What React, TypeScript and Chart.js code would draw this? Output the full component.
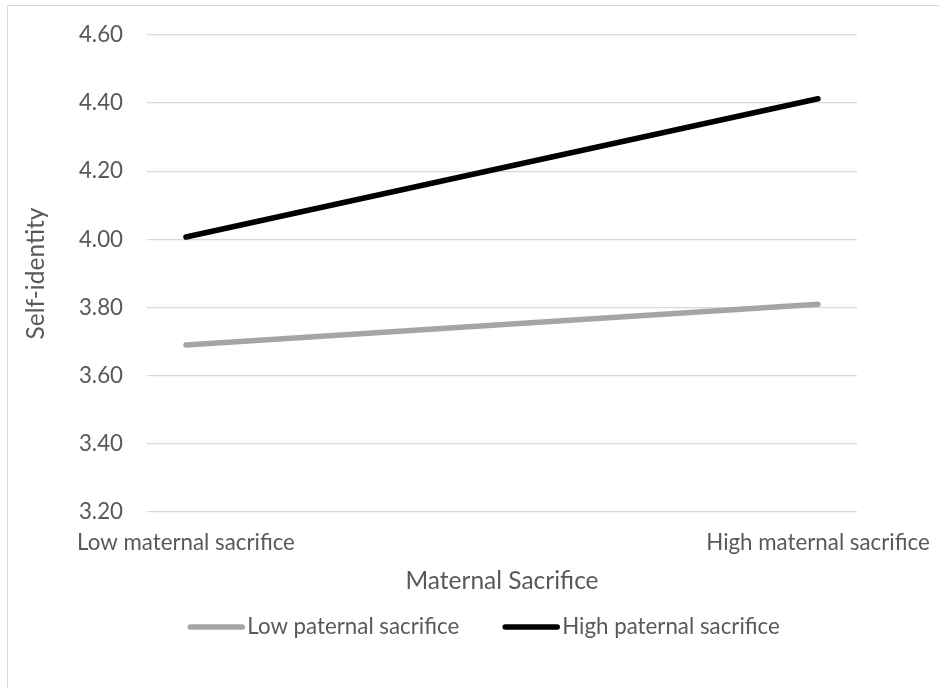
import React, { useEffect, useRef } from "react";
import { Chart, registerables } from "chart.js";

Chart.register(...registerables);

const categories = ["Low maternal sacrifice", "High maternal sacrifice"];
const seriesNames = ["Low paternal sacrifice", "High paternal sacrifice"];
const lowPaternal = [3.69, 3.81];
const highPaternal = [4.007, 4.413];
const yTickValues = [3.2, 3.4, 3.6, 3.8, 4.0, 4.2, 4.4, 4.6];
const xTitle = "Maternal Sacrifice";
const yTitle = "Self-identity";

const TEXT = "#595959";
const GRID = "#d9d9d9";
const FONT = "Lato";

export default function App() {
  const ref = useRef<HTMLCanvasElement | null>(null);

  useEffect(() => {
    const canvas = ref.current;
    if (!canvas) return;
    // size the font so the category label width matches the reference (~218px)
    const mctx = document.createElement("canvas").getContext("2d")!;
    mctx.font = `100px ${FONT}`;
    const w = mctx.measureText(categories[0]).width;
    const fs = Math.round(((100 * 218) / w) * 10) / 10;
    const tfs = Math.round(fs * 1.1 * 10) / 10;

    const legendPlugin = {
      id: "customLegend",
      afterDraw(chart: any) {
        const ctx = chart.ctx;
        const ds = chart.data.datasets;
        ctx.save();
        ctx.font = `${fs}px ${FONT}`;
        const lineLen = 56;
        const gap = 3;
        const itemGap = 44;
        const widths = ds.map((d: any) => lineLen + gap + ctx.measureText(d.label).width);
        const total = widths.reduce((a: number, b: number) => a + b, 0) + itemGap * (ds.length - 1);
        let x = 484 - total / 2;
        const y = 627;
        ds.forEach((d: any, i: number) => {
          ctx.strokeStyle = d.borderColor;
          ctx.lineWidth = d.borderWidth;
          ctx.lineCap = "round";
          ctx.beginPath();
          ctx.moveTo(x + 2, y);
          ctx.lineTo(x + lineLen - 2, y);
          ctx.stroke();
          ctx.fillStyle = TEXT;
          ctx.textBaseline = "middle";
          ctx.textAlign = "left";
          ctx.fillText(d.label, x + lineLen + gap, y);
          x += widths[i] + itemGap;
        });
        ctx.restore();
      },
    };

    const chart = new Chart(canvas, {
      type: "line",
      data: {
        datasets: [
          {
            label: seriesNames[0],
            data: lowPaternal.map((v, i) => ({ x: i, y: v })),
            borderColor: "#a5a5a5",
            backgroundColor: "#a5a5a5",
            borderWidth: 5.5,
            borderCapStyle: "round",
            pointRadius: 0,
            fill: false,
          },
          {
            label: seriesNames[1],
            data: highPaternal.map((v, i) => ({ x: i, y: v })),
            borderColor: "#000000",
            backgroundColor: "#000000",
            borderWidth: 5.5,
            borderCapStyle: "round",
            pointRadius: 0,
            fill: false,
          },
        ],
      },
      options: {
        animation: false,
        responsive: false,
        maintainAspectRatio: false,
        layout: { padding: { left: 7, right: 82, top: 35, bottom: 88 } },
        plugins: {
          legend: { display: false },
          tooltip: { enabled: false },
        },
        scales: {
          x: {
            type: "linear",
            min: -0.0617,
            max: 1.0617,
            afterBuildTicks: (s: any) => {
              s.ticks = categories.map((_, i) => ({ value: i }));
            },
            afterFit: (s: any) => {
              s.height = 88;
              s.paddingLeft = 0;
              s.paddingRight = 0;
            },
            grid: { display: false, drawTicks: false },
            border: { display: false },
            ticks: {
              autoSkip: false,
              maxRotation: 0,
              color: TEXT,
              padding: 17,
              font: { family: FONT, size: fs },
              callback: (v: any) => categories[v as number] ?? "",
            },
            title: {
              display: true,
              text: xTitle,
              color: TEXT,
              font: { family: FONT, size: tfs },
              padding: { top: 0, bottom: 4 },
            },
          },
          y: {
            type: "linear",
            min: 3.2,
            max: 4.6,
            afterBuildTicks: (s: any) => {
              s.ticks = yTickValues.map((v) => ({ value: v }));
            },
            afterFit: (s: any) => {
              s.width = 140;
              s.paddingTop = 0;
              s.paddingBottom = 0;
            },
            grid: { color: GRID, lineWidth: 1.3, drawTicks: false },
            border: { display: false },
            ticks: {
              color: TEXT,
              padding: 24,
              font: { family: FONT, size: fs },
              callback: (v: any) => Number(v).toFixed(2),
            },
            title: {
              display: true,
              text: yTitle,
              color: TEXT,
              font: { family: FONT, size: tfs },
              padding: { top: 14, bottom: 0 },
            },
          },
        },
      },
      plugins: [legendPlugin],
    } as any);

    return () => chart.destroy();
  }, []);

  return (
    <>
      <div
        style={{
          position: "fixed",
          left: 7,
          top: 5,
          width: 1000,
          height: 1000,
          border: `1px solid ${GRID}`,
          pointerEvents: "none",
        }}
      />
      <div style={{ position: "fixed", left: 0, top: 0, width: 939, height: 688 }}>
        <canvas ref={ref} width={939} height={688} style={{ width: 939, height: 688, display: "block" }} />
      </div>
    </>
  );
}
